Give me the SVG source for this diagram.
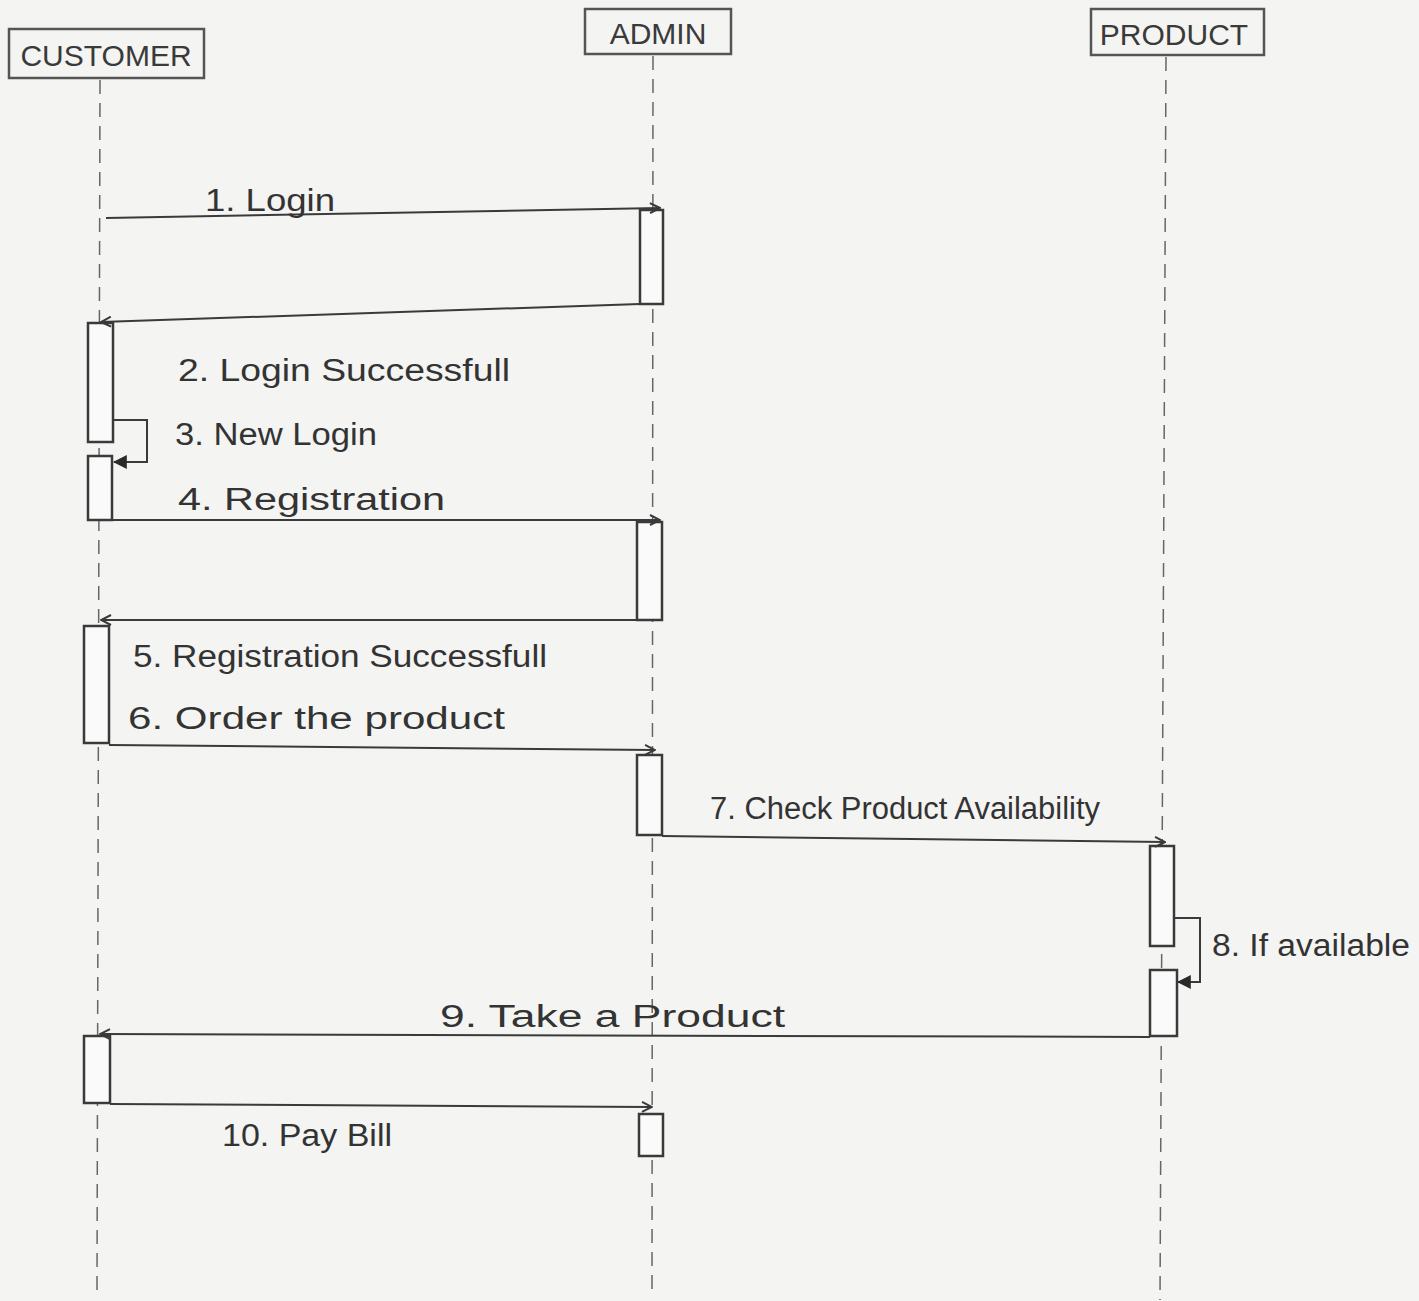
<svg xmlns="http://www.w3.org/2000/svg" width="1419" height="1301" viewBox="0 0 1419 1301">
<style>
.bg{fill:#f4f4f2}
.head{fill:none;stroke:#555;stroke-width:2.5}
.htext{font-family:"Liberation Sans",Arial,sans-serif;font-size:30px;fill:#3a3a3a}
.life{stroke:#666;stroke-width:1.5;stroke-dasharray:14 9;fill:none}
.act{fill:#fafafa;stroke:#3a3a3a;stroke-width:2.5}
.msg{stroke:#3a3a3a;stroke-width:2;fill:none}
.lbl{font-family:"Liberation Sans",Arial,sans-serif;font-size:31px;fill:#333}
</style>
<defs>
<marker id="open" viewBox="0 0 12 12" refX="11" refY="6" markerWidth="12" markerHeight="12" markerUnits="userSpaceOnUse" orient="auto">
<path d="M1,1 L11,6 L1,11" fill="none" stroke="#3a3a3a" stroke-width="2"/>
</marker>
<marker id="filled" viewBox="0 0 12 12" refX="11" refY="6" markerWidth="14" markerHeight="14" markerUnits="userSpaceOnUse" orient="auto">
<path d="M0,0 L12,6 L0,12 z" fill="#2a2a2a"/>
</marker>
</defs>
<rect class="bg" x="0" y="0" width="1419" height="1301"/>

<g id="customer">
<rect class="head" x="9" y="29" width="195" height="49"/>
<text class="htext" x="106" y="66" text-anchor="middle">CUSTOMER</text>
<line class="life" x1="100" y1="80" x2="97" y2="1290"/>
</g>
<g id="admin">
<rect class="head" x="585" y="9" width="146" height="45"/>
<text class="htext" x="658" y="44" text-anchor="middle">ADMIN</text>
<line class="life" x1="653" y1="56" x2="652" y2="1295"/>
</g>
<g id="product">
<rect class="head" x="1091" y="9" width="173" height="46"/>
<text class="htext" x="1174" y="45" text-anchor="middle">PRODUCT</text>
<line class="life" x1="1166" y1="57" x2="1160" y2="1300"/>
</g>

<g id="activations">
<rect class="act" x="640" y="210" width="23" height="94"/>
<rect class="act" x="88" y="323" width="25" height="119"/>
<rect class="act" x="88" y="456" width="24" height="64"/>
<rect class="act" x="637" y="522" width="25" height="98"/>
<rect class="act" x="84" y="626" width="25" height="117"/>
<rect class="act" x="637" y="755" width="25" height="80"/>
<rect class="act" x="1150" y="846" width="24" height="100"/>
<rect class="act" x="1150" y="970" width="27" height="66"/>
<rect class="act" x="84" y="1036" width="26" height="67"/>
<rect class="act" x="639" y="1114" width="24" height="42"/>
</g>

<g id="connectors">
<line class="msg" x1="106" y1="218" x2="660" y2="208" marker-end="url(#open)"/>
<line class="msg" x1="640" y1="304" x2="101" y2="322" marker-end="url(#open)"/>
<polyline class="msg" points="113,420 147,420 147,462 114,462" marker-end="url(#filled)"/>
<line class="msg" x1="106" y1="520" x2="660" y2="520" marker-end="url(#open)"/>
<line class="msg" x1="637" y1="620" x2="101" y2="620" marker-end="url(#open)"/>
<line class="msg" x1="109" y1="745" x2="655" y2="750" marker-end="url(#open)"/>
<line class="msg" x1="662" y1="836" x2="1165" y2="842" marker-end="url(#open)"/>
<polyline class="msg" points="1174,918 1200,918 1200,982 1178,982" marker-end="url(#filled)"/>
<line class="msg" x1="1150" y1="1037" x2="100" y2="1034" marker-end="url(#open)"/>
<line class="msg" x1="110" y1="1104" x2="652" y2="1107" marker-end="url(#open)"/>
</g>

<g id="labels">
<text class="lbl" x="205" y="211" textLength="130" lengthAdjust="spacingAndGlyphs">1. Login</text>
<text class="lbl" x="178" y="381" textLength="332" lengthAdjust="spacingAndGlyphs">2. Login Successfull</text>
<text class="lbl" x="175" y="445" textLength="202" lengthAdjust="spacingAndGlyphs">3. New Login</text>
<text class="lbl" x="178" y="510" textLength="267" lengthAdjust="spacingAndGlyphs">4. Registration</text>
<text class="lbl" x="133" y="667" textLength="414" lengthAdjust="spacingAndGlyphs">5. Registration Successfull</text>
<text class="lbl" x="128" y="729" textLength="377" lengthAdjust="spacingAndGlyphs">6. Order the product</text>
<text class="lbl" x="710" y="819" textLength="390" lengthAdjust="spacingAndGlyphs">7. Check Product Availability</text>
<text class="lbl" x="1212" y="956" textLength="198" lengthAdjust="spacingAndGlyphs">8. If available</text>
<text class="lbl" x="440" y="1027" textLength="345" lengthAdjust="spacingAndGlyphs">9. Take  a  Product</text>
<text class="lbl" x="222" y="1146" textLength="170" lengthAdjust="spacingAndGlyphs">10. Pay Bill</text>
</g>
</svg>
